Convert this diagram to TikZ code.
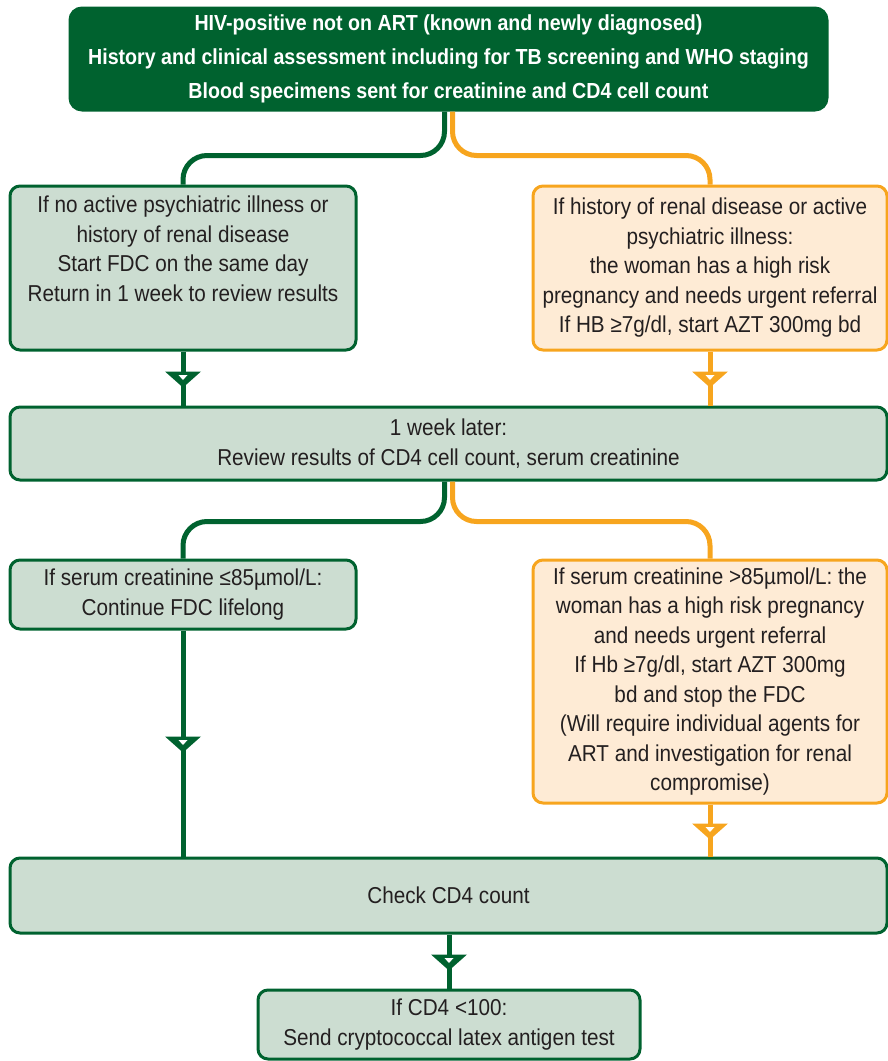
\documentclass[tikz,border=0pt]{standalone}
\usepackage{fontspec}
\setmainfont[FakeStretch=0.9]{Liberation Sans}
\usetikzlibrary{positioning,calc}
\definecolor{dkgreen}{HTML}{00622F}
\definecolor{amber}{HTML}{F7A51E}
\definecolor{sage}{HTML}{CCDDD1}
\definecolor{cream}{HTML}{FEEBD5}
\definecolor{ink}{HTML}{231F20}

\begin{document}
\begin{tikzpicture}[x=1pt,y=-1pt,
    box/.style={draw=dkgreen,fill=sage,line width=3pt,rounded corners=10pt,align=center,
      text=ink,font=\fontsize{23}{29.5}\selectfont,inner sep=0pt},
    obox/.style={box,draw=amber,fill=cream},
    headbox/.style={box,fill=dkgreen,text=white,rounded corners=12pt,
      font=\fontsize{21.8}{34}\selectfont\bfseries},
    gline/.style={draw=dkgreen,line width=5pt},
    oline/.style={gline,draw=amber},
    pics/tip/.style={code={
      \fill[#1] (-18,-7) -- (18,-7) -- (0,9) -- cycle;
      \fill[white] (-4.5,-3.5) -- (4.5,-3.5) -- (0,1.5) -- cycle;
    }}]
  \useasboundingbox (0,0) rectangle (888,1061);
  % boxes
  \node[headbox,minimum width=757pt,minimum height=102pt] (top) at (448.5,59)
    {HIV-positive not on ART (known and newly diagnosed)\\
     History and clinical assessment including for TB screening and WHO staging\\
     Blood specimens sent for creatinine and CD4 cell count};
  \node[box,minimum width=346pt,minimum height=164pt] (l1) at (183,268)
    {If no active psychiatric illness or\\history of renal disease\\
     Start FDC on the same day\\Return in 1 week to review results\\\strut};
  \node[obox,minimum width=354pt,minimum height=164pt] (r1) at (710,268)
    {If history of renal disease or active\\psychiatric illness:\\
     the woman has a high risk\\pregnancy and needs urgent referral\\
     If HB ≥7g/dl, start AZT 300mg bd};
  \node[box,minimum width=877pt,minimum height=73pt] (mid) at (448.5,443.5)
    {1 week later:\\Review results of CD4 cell count, serum creatinine};
  \node[box,minimum width=346pt,minimum height=69pt] (l2) at (183,594.5)
    {If serum creatinine ≤85µmol/L:\\Continue FDC lifelong};
  \node[obox,minimum width=354pt,minimum height=243pt] (r2) at (710,681.5)
    {If serum creatinine >85µmol/L: the\\woman has a high risk pregnancy\\
     and needs urgent referral\\If Hb ≥7g/dl, start AZT 300mg\\
     bd and stop the FDC\\(Will require individual agents for\\
     ART and investigation for renal\\compromise)};
  \node[box,minimum width=877pt,minimum height=75pt] (chk) at (448.5,895.5)
    {Check CD4 count};
  \node[box,minimum width=382pt,minimum height=69pt] (bot) at (449,1024.5)
    {If CD4 <100:\\Send cryptococcal latex antigen test};
  % branches
  \draw[gline,rounded corners=24pt] ($(top.south)+(-4,0)$) -- ++(0,44) -| (l1.north);
  \draw[oline,rounded corners=24pt] ($(top.south)+(4,0)$) -- ++(0,44) -| (r1.north);
  \draw[gline,rounded corners=24pt] ($(mid.south)+(-4,0)$) -- ++(0,40) -| (l2.north);
  \draw[oline,rounded corners=24pt] ($(mid.south)+(4,0)$) -- ++(0,40) -| (r2.north);
  % down arrows
  \draw[gline] (l1.south) -- (l1.south |- mid.north) coordinate[midway] (t1);
  \draw[oline] (r1.south) -- (r1.south |- mid.north) coordinate[midway] (t2);
  \draw[gline] (l2.south) -- (l2.south |- chk.north) coordinate[midway] (t3);
  \draw[oline] (r2.south) -- (r2.south |- chk.north) coordinate[midway] (t4);
  \draw[gline] (chk.south -| bot.north) -- (bot.north) coordinate[midway] (t5);
  \pic at (t1) {tip=dkgreen};
  \pic at (t2) {tip=amber};
  \pic at (t3) {tip=dkgreen};
  \pic at (t4) {tip=amber};
  \pic at (t5) {tip=dkgreen};
\end{tikzpicture}
\end{document}
